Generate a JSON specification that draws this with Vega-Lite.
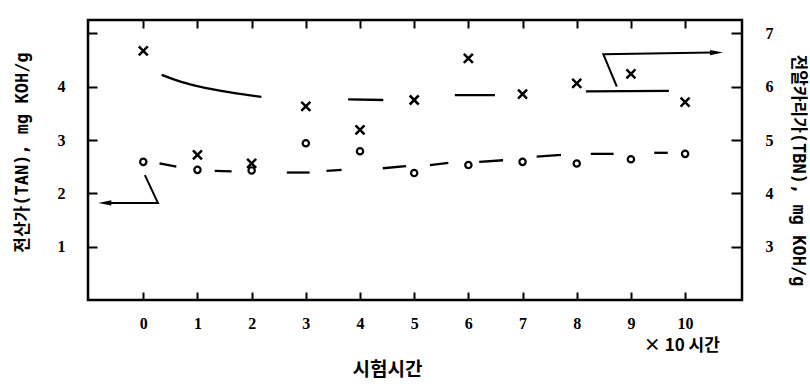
{
  "$schema": "https://vega.github.io/schema/vega-lite/v6.json",
  "width": 654,
  "height": 280,
  "autosize": {"type": "none"},
  "padding": {"left": 88, "top": 20, "right": 68, "bottom": 84},
  "background": "white",
  "config": {
    "view": {"stroke": "black", "strokeWidth": 2.5},
    "axis": {
      "domain": false,
      "grid": false,
      "tickColor": "black",
      "tickWidth": 2,
      "labelColor": "black",
      "labelFont": "Liberation Serif",
      "labelFontSize": 16,
      "labelFontWeight": "bold",
      "titleColor": "black",
      "titleFont": "DejaVu Sans Mono, Noto Sans CJK KR",
      "titleFontWeight": "bold",
      "titleFontSize": 17
    }
  },
  "datasets": {
    "tan": [
      {"t": 0, "v": 2.59}, {"t": 1, "v": 2.44}, {"t": 2, "v": 2.43}, {"t": 3, "v": 2.94},
      {"t": 4, "v": 2.79}, {"t": 5, "v": 2.38}, {"t": 6, "v": 2.53}, {"t": 7, "v": 2.59},
      {"t": 8, "v": 2.56}, {"t": 9, "v": 2.64}, {"t": 10, "v": 2.74}
    ],
    "tanFit": [
      {"seg": 1, "t": 0.30, "v": 2.56}, {"seg": 1, "t": 0.61, "v": 2.50},
      {"seg": 2, "t": 1.32, "v": 2.42}, {"seg": 2, "t": 1.63, "v": 2.41},
      {"seg": 3, "t": 2.65, "v": 2.39}, {"seg": 3, "t": 3.07, "v": 2.39},
      {"seg": 4, "t": 3.38, "v": 2.42}, {"seg": 4, "t": 3.66, "v": 2.44},
      {"seg": 5, "t": 4.42, "v": 2.47}, {"seg": 5, "t": 4.85, "v": 2.51},
      {"seg": 6, "t": 5.29, "v": 2.53}, {"seg": 6, "t": 5.63, "v": 2.57},
      {"seg": 7, "t": 6.20, "v": 2.59}, {"seg": 7, "t": 6.64, "v": 2.62},
      {"seg": 8, "t": 7.26, "v": 2.69}, {"seg": 8, "t": 7.71, "v": 2.72},
      {"seg": 9, "t": 8.26, "v": 2.74}, {"seg": 9, "t": 8.68, "v": 2.74},
      {"seg": 10, "t": 9.43, "v": 2.76}, {"seg": 10, "t": 9.68, "v": 2.76}
    ],
    "tanArrow": [
      {"o": 1, "t": 0.03, "v": 2.34}, {"o": 2, "t": 0.27, "v": 1.82}, {"o": 3, "t": -0.70, "v": 1.82}
    ],
    "tanHead": [{"t": -0.71, "v": 1.82}],
    "note": [{"t": 9.94, "v": -0.87, "label": "× 10 시간"}],
    "tbn": [
      {"t": 0, "v": 6.67}, {"t": 1, "v": 4.72}, {"t": 2, "v": 4.56}, {"t": 3, "v": 5.63},
      {"t": 4, "v": 5.19}, {"t": 5, "v": 5.75}, {"t": 6, "v": 6.53}, {"t": 7, "v": 5.86},
      {"t": 8, "v": 6.06}, {"t": 9, "v": 6.24}, {"t": 10, "v": 5.71}
    ],
    "tbnFit": [
      {"seg": 1, "t": 0.34, "v": 6.22}, {"seg": 1, "t": 0.70, "v": 6.09}, {"seg": 1, "t": 1.04, "v": 6.00},
      {"seg": 1, "t": 1.63, "v": 5.89}, {"seg": 1, "t": 2.18, "v": 5.81},
      {"seg": 2, "t": 3.78, "v": 5.76}, {"seg": 2, "t": 4.43, "v": 5.75},
      {"seg": 3, "t": 5.75, "v": 5.84}, {"seg": 3, "t": 6.49, "v": 5.84},
      {"seg": 4, "t": 8.17, "v": 5.91}, {"seg": 4, "t": 9.70, "v": 5.92}
    ],
    "tbnArrow": [
      {"o": 1, "t": 8.74, "v": 6.00}, {"o": 2, "t": 8.49, "v": 6.61}, {"o": 3, "t": 10.50, "v": 6.64}
    ],
    "tbnHead": [{"t": 10.58, "v": 6.64}]
  },
  "layer": [
    {
      "encoding": {
        "x": {
          "field": "t", "type": "quantitative",
          "scale": {"domain": [-1.02, 11.05], "nice": false, "zero": false},
          "axis": {
            "orient": "bottom", "values": [0, 1, 2, 3, 4, 5, 6, 7, 8, 9, 10],
            "tickSize": -8, "labelPadding": 23,
            "title": "시험시간", "titleFont": "Noto Sans CJK KR", "titleFontSize": 19,
            "titleX": 299, "titleY": 69, "titleAlign": "center", "titleBaseline": "middle"
          }
        },
        "y": {
          "field": "v", "type": "quantitative",
          "scale": {"domain": [0, 5.25], "nice": false, "zero": false},
          "axis": {
            "orient": "left", "values": [1, 2, 3, 4, 5],
            "labelExpr": "datum.value == 5 ? '' : datum.label",
            "tickSize": -9, "labelPadding": 32,
            "title": "전산가(TAN), mg KOH/g",
            "titleX": -66, "titleY": 132, "titleAlign": "center", "titleBaseline": "middle", "titleAngle": 270
          }
        }
      },
      "layer": [
        {"data": {"name": "tanFit"}, "mark": {"type": "line", "color": "black", "strokeWidth": 2.3}, "encoding": {"detail": {"field": "seg"}}},
        {"data": {"name": "tanArrow"}, "mark": {"type": "line", "color": "black", "strokeWidth": 2}, "encoding": {"order": {"field": "o"}}},
        {"data": {"name": "tanHead"}, "mark": {"type": "point", "shape": "M-1,0L1,-0.4L1,0.4Z", "filled": true, "color": "black", "opacity": 1, "size": 169}},
        {"data": {"name": "tan"}, "mark": {"type": "point", "shape": "circle", "filled": false, "color": "black", "strokeWidth": 2.2, "opacity": 1, "size": 40}},
        {"data": {"name": "note"}, "mark": {"type": "text", "font": "Noto Sans CJK KR", "fontSize": 17, "fontWeight": "bold", "color": "black", "align": "center", "baseline": "middle"}, "encoding": {"text": {"field": "label"}}}
      ]
    },
    {
      "encoding": {
        "x": {
          "field": "t", "type": "quantitative",
          "scale": {"domain": [-1.02, 11.05], "nice": false, "zero": false},
          "axis": {"orient": "top", "values": [0, 1, 2, 3, 4, 5, 6, 7, 8, 9, 10], "labels": false, "tickSize": -8, "title": null}
        },
        "y": {
          "field": "v", "type": "quantitative",
          "scale": {"domain": [2, 7.25], "nice": false, "zero": false},
          "axis": {
            "orient": "right", "values": [3, 4, 5, 6, 7],
            "tickSize": -11, "labelPadding": 34,
            "title": "전알카리가(TBN), mg KOH/g",
            "titleX": 55, "titleY": 150, "titleAlign": "center", "titleBaseline": "middle", "titleAngle": 90
          }
        }
      },
      "layer": [
        {"data": {"name": "tbnFit"}, "mark": {"type": "line", "color": "black", "strokeWidth": 2.3, "interpolate": "monotone"}, "encoding": {"detail": {"field": "seg"}}},
        {"data": {"name": "tbnArrow"}, "mark": {"type": "line", "color": "black", "strokeWidth": 2}, "encoding": {"order": {"field": "o"}}},
        {"data": {"name": "tbnHead"}, "mark": {"type": "point", "shape": "M1,0L-1,-0.4L-1,0.4Z", "filled": true, "color": "black", "opacity": 1, "size": 169}},
        {"data": {"name": "tbn"}, "mark": {"type": "point", "shape": "M-1,-1L1,1M-1,1L1,-1", "filled": false, "color": "black", "strokeWidth": 2.5, "opacity": 1, "size": 81}}
      ]
    }
  ],
  "resolve": {"scale": {"y": "independent"}, "axis": {"x": "independent"}}
}
